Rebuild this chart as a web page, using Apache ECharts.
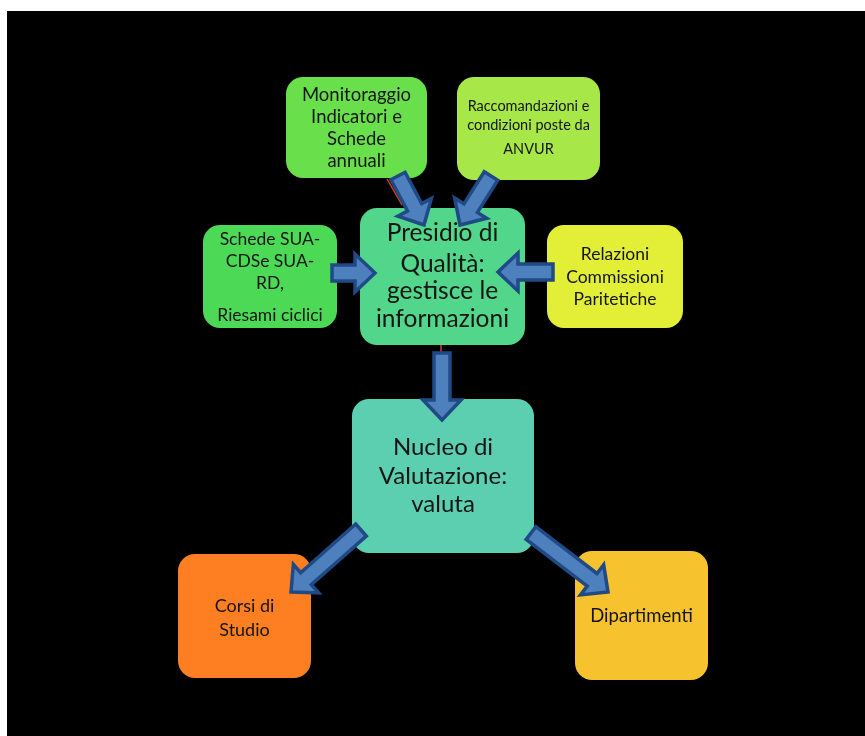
<!DOCTYPE html>
<html><head><meta charset="utf-8">
<script src="https://cdn.jsdelivr.net/npm/echarts@6/dist/echarts.min.js"></script>
<style>html,body{margin:0;padding:0;background:#fff}#c{width:865px;height:736px}</style>
</head><body><div id="c"></div>
<script>
// ---- diagram content ----
const boxNames = ['Monitoraggio', 'Raccomandazioni', 'Schede', 'Presidio', 'Relazioni', 'Nucleo', 'Corsi', 'Dipartimenti'];
const boxLines = [
  ['Monitoraggio', 'Indicatori e', 'Schede', 'annuali'],
  ['Raccomandazioni e', 'condizioni poste da', 'ANVUR'],
  ['Schede SUA-', 'CDSe SUA-', 'RD,', 'Riesami ciclici'],
  ['Presidio di', 'Qualità:', 'gestisce le', 'informazioni'],
  ['Relazioni', 'Commissioni', 'Paritetiche'],
  ['Nucleo di', 'Valutazione:', 'valuta'],
  ['Corsi di', 'Studio'],
  ['Dipartimenti']
];
// box extents [x0, y0, x1, y1] in page units
const boxRects = [
  [286, 77, 427, 178],
  [457, 77, 600, 180],
  [203, 225, 337, 328],
  [360, 208, 525, 345],
  [547, 225, 683, 328],
  [352, 399, 534, 553],
  [178, 554, 311, 678],
  [575, 551, 708, 680]
];
// vertical centre of each text line
const lineY = [
  [95, 117, 139, 161],
  [106, 125, 149],
  [239, 261, 283, 315],
  [233, 264, 291, 319],
  [254, 277, 299],
  [447, 476, 504],
  [606, 630],
  [616]
];
// arrows: tail centre -> tip
const arrows = [
  [398, 176, 424, 225],
  [491, 176, 460, 225],
  [332, 273, 375, 273],
  [553, 272, 498, 272],
  [442, 353, 442, 420],
  [361, 530, 291, 592],
  [531, 533, 608, 592]
];
const connectors = [
  [387, 179, 402, 205],
  [497, 179, 494, 185],
  [441, 345, 441, 355]
];

// ---- styles ----
const boxColors = ['#69e04b', '#a8e748', '#4cd955', '#52d68b', '#e3ef37', '#5bcfb0', '#fd7f21', '#f6c22e'];
const fontSizes = [18.5, 14.5, 17.5, 24.5, 17.5, 24, 18, 18.5];
const FONT = 'Lato, "Open Sans", sans-serif';

const chart = echarts.init(document.getElementById('c'), null, {renderer: 'canvas'});

function arrowPoints(p0, p1, sw, hw, hl) {
  const dx = p1[0] - p0[0], dy = p1[1] - p0[1];
  const L = Math.hypot(dx, dy);
  const ux = dx / L, uy = dy / L, nx = -uy, ny = ux;
  const nk = [p1[0] - ux * hl, p1[1] - uy * hl];
  return [
    [p0[0] + nx * sw, p0[1] + ny * sw],
    [nk[0] + nx * sw, nk[1] + ny * sw],
    [nk[0] + nx * hw, nk[1] + ny * hw],
    [p1[0], p1[1]],
    [nk[0] - nx * hw, nk[1] - ny * hw],
    [nk[0] - nx * sw, nk[1] - ny * sw],
    [p0[0] - nx * sw, p0[1] - ny * sw]
  ];
}

chart.setOption({
  animation: false,
  backgroundColor: '#ffffff',
  graphic: [{type: 'rect', z: -10, shape: {x: 7, y: 11, width: 858, height: 725}, style: {fill: '#000'}}],
  grid: {left: 0, right: 0, top: 0, bottom: 0},
  xAxis: {type: 'value', min: 0, max: 865, show: false},
  yAxis: {type: 'value', min: 0, max: 736, inverse: true, show: false},
  series: [
    {
      type: 'custom', z: 1,
      data: connectors,
      renderItem(params, api) {
        const a = api.coord([api.value(0), api.value(1)]);
        const b = api.coord([api.value(2), api.value(3)]);
        return {type: 'line', shape: {x1: a[0], y1: a[1], x2: b[0], y2: b[1]}, style: {stroke: '#d2421c', lineWidth: 1.5}};
      }
    },
    {
      type: 'custom', z: 2,
      data: boxRects,
      renderItem(params, api) {
        const i = params.dataIndex;
        const p0 = api.coord([api.value(0), api.value(1)]);
        const p1 = api.coord([api.value(2), api.value(3)]);
        const cx = (p0[0] + p1[0]) / 2;
        const children = [{
          type: 'rect',
          shape: {x: p0[0], y: p0[1], width: p1[0] - p0[0], height: p1[1] - p0[1], r: 17},
          style: {fill: boxColors[i]}
        }];
        boxLines[i].forEach((t, j) => {
          const py = api.coord([0, lineY[i][j]])[1];
          children.push({
            type: 'text',
            style: {text: t, x: cx, y: py, align: 'center', verticalAlign: 'middle',
              fill: '#141414', font: fontSizes[i] + 'px ' + FONT}
          });
        });
        return {type: 'group', children};
      }
    },
    {
      type: 'custom', z: 3,
      data: arrows,
      renderItem(params, api) {
        const a = api.coord([api.value(0), api.value(1)]);
        const b = api.coord([api.value(2), api.value(3)]);
        return {
          type: 'polygon',
          shape: {points: arrowPoints(a, b, 8, 19, 20)},
          style: {fill: '#4f80be', stroke: '#1f4a86', lineWidth: 3.5, lineJoin: 'miter'}
        };
      }
    }
  ]
});
</script>
</body></html>
